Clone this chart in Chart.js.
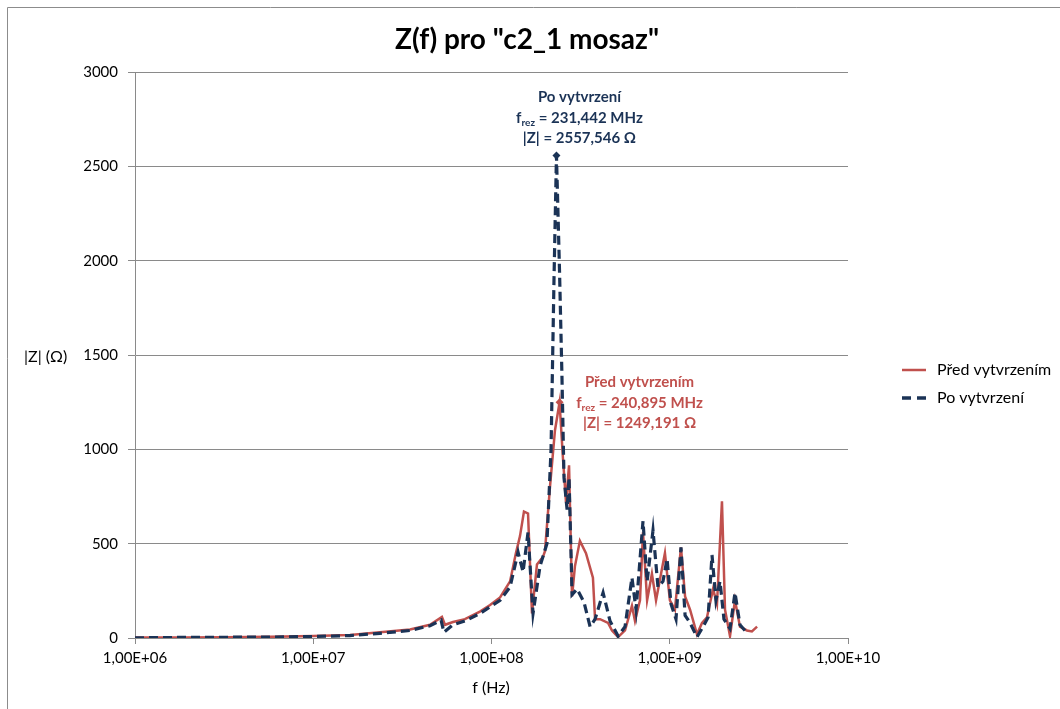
<!DOCTYPE html>
<html>
<head>
<meta charset="utf-8">
<script src="https://cdn.jsdelivr.net/npm/chart.js@4.4.1/dist/chart.umd.min.js"></script>
<style>
html,body{margin:0;padding:0;background:#fff;}
#wrap{position:relative;width:1060px;height:709px;}
</style>
</head>
<body>
<div id="wrap"><canvas id="c" width="1060" height="709"></canvas></div>
<script>
// ---- data (frequencies in MHz, |Z| in ohm) ----
const redFreqMHz = [1.0,1.789,3.199,5.715,10.0,16.07,23.66,34.91,45.19,52.72,54.83,60.81,70.96,86.10,98.17,111.7,127.1,137.1,144.5,152.1,160.3,168.7,179.9,194.5,199.5,212.8,227.0,240.895,251.8,261.8,272.3,283.1,293.8,313.3,338.8,370.7,381.1,406.4,450.8,474.2,512.9,561.0,613.8,638.3,680.8,707.9,746.4,794.3,837.5,939.7,1002,1069,1156,1219,1300,1422,1517,1618,1750,1841,1963,2042,2178,2323,2477,2710,2891,3090];
const redZ =       [2,3,4,6,10,16,30,45,70,112,70,85,100,140,175,215,300,450,540,670,660,130,390,430,460,800,1100,1249.191,950,720,915,220,380,515,450,320,100,100,80,40,5,40,170,90,200,560,200,340,200,450,200,150,480,220,150,20,80,110,260,180,725,150,10,200,60,40,35,60];

const navyFreqMHz = [1.0,1.789,3.199,5.715,10.0,16.07,23.66,34.91,45.19,52.12,54.08,60.81,70.96,86.10,98.17,111.7,127.1,140.9,150.3,160.3,171.0,187.1,204.6,215.8,224.2,231.442,240.7,248.3,255.1,265.5,272.3,283.1,302.0,330.4,357.3,381.1,422.7,462.4,512.9,561.0,613.8,647.1,707.9,746.4,805.4,859.0,916.2,966.1,1016,1084,1156,1219,1300,1422,1538,1641,1726,1816,1914,2014,2178,2323,2477,2642];
const navyZ =       [1,3,4,5,8,13,25,40,65,95,30,70,90,130,165,200,270,455,350,560,130,380,500,1000,1900,2557.546,1950,1400,850,680,850,230,260,190,60,100,240,90,10,60,320,150,620,300,570,270,300,420,180,100,480,120,80,5,60,110,440,200,300,100,50,240,70,40];

const xTickValues = [1e6,1e7,1e8,1e9,1e10];
const xTickLabels = ['1,00E+06','1,00E+07','1,00E+08','1,00E+09','1,00E+10'];
const yTickValues = [0,500,1000,1500,2000,2500,3000];

const seriesNames = ['Před vytvrzením','Po vytvrzení'];
const chartTitle = 'Z(f) pro "c2_1 mosaz"';
const xTitle = 'f (Hz)';
const yTitle = '|Z| (Ω)';
const navyNote = {head:'Po vytvrzení', freq:'231,442 MHz', z:'2557,546 Ω', fMHz:231.442, z0:2557.546};
const redNote  = {head:'Před vytvrzením', freq:'240,895 MHz', z:'1249,191 Ω', fMHz:240.895, z0:1249.191};

const RED = '#c0504d';
const NAVY = '#1b3356';
const GRID = '#8a8a8a';
const FONT = 'Lato, "Noto Sans", sans-serif';

function toPts(f, z){ return f.map((v,i)=>({x:v*1e6, y:z[i]})); }
function peakRadius(z, peak){ return z.map(v => v===peak ? 4 : 0); }

const overlay = {
  id:'overlay',
  afterDraw(chart){
    const ctx = chart.ctx;
    const xs = chart.scales.x, ys = chart.scales.y;
    ctx.save();
    // outer border (left & top visible)
    ctx.strokeStyle = '#8c8c8c'; ctx.lineWidth = 1;
    ctx.beginPath(); ctx.moveTo(7.5, 709); ctx.lineTo(7.5, 7.5); ctx.lineTo(1060, 7.5); ctx.stroke();
    // title
    ctx.fillStyle = '#000'; ctx.textAlign='center'; ctx.textBaseline='middle';
    ctx.font = 'bold 28px ' + FONT;
    ctx.fillText(chartTitle, 527, 40);
    // axis titles
    ctx.font = '16px ' + FONT;
    ctx.textAlign='left';
    ctx.fillText(yTitle, 24, 357);
    ctx.textAlign='center';
    ctx.fillText(xTitle, 491, 688);
    // legend
    ctx.textAlign='left';
    ctx.strokeStyle = RED; ctx.lineWidth = 2.5; ctx.setLineDash([]);
    ctx.beginPath(); ctx.moveTo(902, 370); ctx.lineTo(926, 370); ctx.stroke();
    ctx.fillStyle='#000';
    ctx.font = '16px ' + FONT;
    ctx.fillText(seriesNames[0], 937, 370);
    ctx.strokeStyle = NAVY; ctx.lineWidth = 3.5; ctx.setLineDash([9,6]);
    ctx.beginPath(); ctx.moveTo(902, 398); ctx.lineTo(929, 398); ctx.stroke();
    ctx.setLineDash([]);
    ctx.fillText(seriesNames[1], 937, 398);

    // annotations
    function note(n, color, dx, dy){
      const px = xs.getPixelForValue(n.fMHz*1e6) + dx;
      const py = ys.getPixelForValue(n.z0) + dy;
      const F = 'bold 15px ' + FONT, S = 'bold 10px ' + FONT;
      ctx.fillStyle = color;
      ctx.textBaseline='middle';
      ctx.font = F;
      ctx.textAlign='center';
      ctx.fillText(n.head, px, py);
      const main = ' = ' + n.freq;
      ctx.font = F; const wf = ctx.measureText('f').width; const wm = ctx.measureText(main).width;
      ctx.font = S; const ws = ctx.measureText('rez').width;
      const tot = wf+ws+wm; let x0 = px - tot/2;
      ctx.textAlign='left';
      ctx.font = F; ctx.fillText('f', x0, py+21);
      ctx.font = S; ctx.fillText('rez', x0+wf, py+25);
      ctx.font = F; ctx.fillText(main, x0+wf+ws, py+21);
      ctx.textAlign='center';
      ctx.fillText('|Z| = ' + n.z, px, py+41);
    }
    note(navyNote, NAVY, 23, -58);
    note(redNote, RED, 80, -20);
    ctx.restore();
  }
};

new Chart(document.getElementById('c'), {
  type:'line',
  data:{
    datasets:[
      {label:seriesNames[0], data:toPts(redFreqMHz, redZ), borderColor:RED, backgroundColor:RED,
       borderWidth:2.5, tension:0, pointRadius:peakRadius(redZ, redNote.z0), pointStyle:'rectRot',
       pointBackgroundColor:RED, pointBorderWidth:0, order:1},
      {label:seriesNames[1], data:toPts(navyFreqMHz, navyZ), borderColor:NAVY, backgroundColor:NAVY,
       borderWidth:3.2, borderDash:[9,5], tension:0, pointRadius:peakRadius(navyZ, navyNote.z0), pointStyle:'rectRot',
       pointBackgroundColor:NAVY, pointBorderWidth:0, order:0}
    ]
  },
  options:{
    responsive:false, animation:false, devicePixelRatio:1,
    layout:{padding:{left:0, right:212, top:72, bottom:0}},
    plugins:{legend:{display:false}, tooltip:{enabled:false}, title:{display:false}},
    scales:{
      x:{type:'logarithmic', min:1e6, max:1e10,
         afterBuildTicks(s){ s.ticks = xTickValues.map(v=>({value:v})); },
         afterFit(s){ s.height = 71; },
         ticks:{callback:(v)=>{const i=xTickValues.indexOf(v); return i>=0?xTickLabels[i]:'';}, color:'#000', font:{family:FONT,size:15}, padding:5, maxRotation:0, autoSkip:false},
         grid:{drawOnChartArea:false, drawTicks:true, tickLength:6, color:GRID},
         border:{color:GRID, width:1}
      },
      y:{type:'linear', min:0, max:3000,
         afterBuildTicks(s){ s.ticks = yTickValues.map(v=>({value:v})); },
         afterFit(s){ s.width = 135; },
         ticks:{callback:(v)=>String(v), color:'#000', font:{family:FONT,size:15}, padding:10},
         grid:{drawOnChartArea:true, drawTicks:true, tickLength:7, color:GRID},
         border:{color:GRID, width:1}
      }
    }
  },
  plugins:[overlay]
});
</script>
</body>
</html>
